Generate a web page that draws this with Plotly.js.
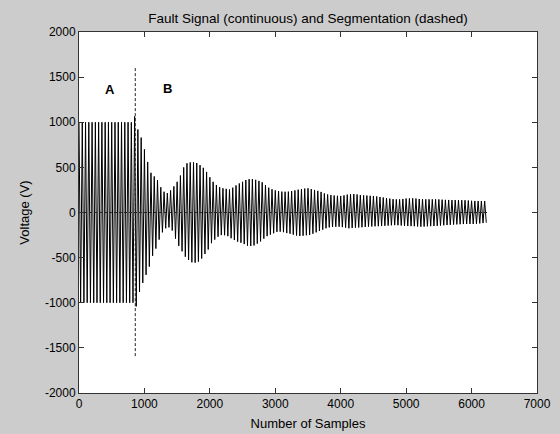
<!DOCTYPE html>
<html>
<head>
<meta charset="utf-8">
<script src="https://cdn.plot.ly/plotly-3.0.1.min.js"></script>
<style>html,body{margin:0;padding:0;background:#cccccc;}#chart{width:560px;height:434px;}</style>
</head>
<body>
<div id="chart"></div>
<script>
// Positive peaks of the fault signal, one per cycle, at samples 0, 50, ..., 6200
const upperPeaks = [
  1000,1000,1000,1000,1000,1000,1000,1000,1000,1000,1000,1000,1000,1000,1000,1000,1000,
  1065, 920, 830, 700, 560, 440, 400, 360, 280, 230,
  215, 245, 290, 340, 410, 500, 545, 555, 556, 548,
  525, 495, 450, 390, 340, 305, 280, 268, 262, 255,
  275, 300, 322, 340, 360, 370, 370, 362, 350, 335,
  305, 275, 258, 245, 238, 231, 230, 231, 238, 245,
  253, 260, 265, 268, 260, 250, 240, 228, 212, 200,
  193, 188, 185, 183, 190, 198, 203, 205, 200, 194,
  190, 188, 185, 183, 178, 172, 166, 160, 154, 148,
  146, 146, 150, 155, 156, 157, 154, 150, 148, 146,
  146, 146, 146, 145, 142, 140, 139, 138, 138, 138,
  137, 136, 133, 130, 128, 127, 127, 127];
// Negative peaks, one per cycle, at samples 25, 75, ..., 6225
const lowerPeaks = [
  -1000,-1000,-1000,-1000,-1000,-1000,-1000,-1000,-1000,-1000,-1000,-1000,-1000,-1000,-1000,-1000,-1000,
  -1040, -880, -780, -690, -600, -480, -400, -300, -220, -175,
  -165, -200, -290, -370, -430, -490, -525, -552, -556, -545,
  -510, -460, -410, -340, -300, -268, -250, -252, -262, -285,
  -305, -323, -335, -350, -368, -371, -365, -345, -320, -290,
  -262, -245, -230, -215, -212, -218, -228, -235, -245, -255,
  -260, -257, -252, -249, -235, -220, -205, -190, -175, -165,
  -160, -157, -157, -162, -168, -175, -172, -168, -166, -163,
  -160, -157, -155, -153, -152, -150, -148, -145, -142, -140,
  -141, -144, -148, -150, -151, -152, -155, -157, -156, -153,
  -151, -150, -148, -145, -142, -139, -137, -134, -132, -130,
  -128, -127, -127, -127, -125, -121, -117, -113];
const samplesPerCycle = 50;

// Segmentation (dashed)
const boundarySample = 860;
const boundaryTop = 1600;
const boundaryBottom = -1600;
const signalEnd = 6250;

// Segment labels
const labelText = ['A', 'B'];
const labelX = [475, 1360];
const labelY = [1360, 1370];

const xTicks = [0, 1000, 2000, 3000, 4000, 5000, 6000, 7000];
const yTicks = [-2000, -1500, -1000, -500, 0, 500, 1000, 1500, 2000];

const sx = [], sy = [];
for (let i = 0; i < upperPeaks.length; i++) {
  sx.push(i * samplesPerCycle); sy.push(upperPeaks[i]);
  sx.push(i * samplesPerCycle + samplesPerCycle / 2); sy.push(lowerPeaks[i]);
}

const signal = {
  type: 'scatter', mode: 'lines', x: sx, y: sy,
  line: {color: '#000000', width: 1}, hoverinfo: 'skip'
};
const seg = {
  type: 'scatter', mode: 'lines',
  x: [boundarySample, boundarySample, null, 0, signalEnd],
  y: [boundaryTop, boundaryBottom, null, 0, 0],
  line: {color: '#222222', width: 1, dash: '3px,2px'}, hoverinfo: 'skip'
};

const axisCommon = {
  ticks: 'inside', ticklen: 5, tickwidth: 1, tickcolor: '#333333',
  showline: true, linecolor: '#333333', linewidth: 1, mirror: 'ticks',
  showgrid: false, zeroline: false, automargin: false,
  tickfont: {size: 12, color: '#000000'}
};

const layout = {
  width: 560, height: 434,
  paper_bgcolor: '#cccccc', plot_bgcolor: '#ffffff',
  margin: {l: 79, r: 23, t: 32, b: 41, pad: 0},
  showlegend: false,
  font: {family: 'Liberation Sans, Arial, sans-serif', size: 12, color: '#000000'},
  title: {
    text: 'Fault Signal (continuous) and Segmentation (dashed)',
    font: {size: 13.5, color: '#000000'},
    xref: 'paper', x: 0.5, xanchor: 'center',
    yref: 'container', y: 1 - 18 / 434, yanchor: 'middle'
  },
  xaxis: Object.assign({}, axisCommon, {
    range: [0, 7000], tickvals: xTicks, ticktext: xTicks.map(String),
    title: {text: 'Number of Samples', font: {size: 13}, standoff: 8}
  }),
  yaxis: Object.assign({}, axisCommon, {
    range: [-2000, 2000], tickvals: yTicks, ticktext: yTicks.map(String),
    title: {text: 'Voltage (V)', font: {size: 13}, standoff: 12}
  }),
  annotations: labelText.map((t, i) => ({
    x: labelX[i], y: labelY[i], xref: 'x', yref: 'y', text: '<b>' + t + '</b>',
    showarrow: false, font: {size: 13, color: '#000000'}
  }))
};

Plotly.newPlot('chart', [signal, seg], layout, {displayModeBar: false, staticPlot: true});
</script>
</body>
</html>
